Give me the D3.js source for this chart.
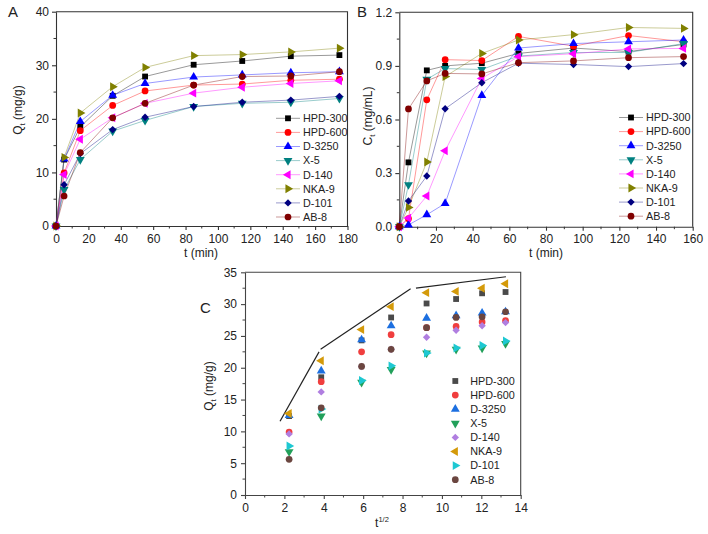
<!DOCTYPE html>
<html><head><meta charset="utf-8">
<script src="https://cdn.jsdelivr.net/npm/d3@7"></script>
<style>
body{margin:0;background:#fff;}
svg{display:block;font-family:"Liberation Sans",Arial,sans-serif;}
</style></head>
<body>
<svg id="c" width="708" height="534"></svg>
<script>
// ---------- DATA ----------
const seriesNames = ["HPD-300","HPD-600","D-3250","X-5","D-140","NKA-9","D-101","AB-8"];
// Panel A: adsorption kinetics
const timeA = [0,5,15,35,55,85,115,145,175];
const qHPD300 = [0,12.4,18.5,24.3,27.9,30.1,30.8,31.7,31.9];
const qHPD600 = [0,9.9,17.8,22.5,25.2,26.3,26.5,27.2,27.4];
const qD3250  = [0,12.5,19.5,24.4,26.6,27.8,28.2,28.6,28.8];
const qX5     = [0,6.8,12.4,17.7,19.7,22.3,22.9,23.1,23.8];
const qD140   = [0,9.6,16.2,20.2,22.9,24.8,25.9,26.6,27.1];
const qNKA9   = [0,12.8,21.1,26.0,29.6,31.8,32.0,32.5,33.2];
const qD101   = [0,7.7,13.5,18.0,20.3,22.3,23.1,23.5,24.2];
const qAB8    = [0,5.6,13.7,20.2,22.9,26.3,27.9,28.0,28.8];
// Panel B: desorption kinetics
const timeB = [0,5,15,25,45,65,95,125,155];
const cHPD300 = [0,0.36,0.875,0.90,0.915,0.97,1.00,0.98,1.02];
const cHPD600 = [0,0.045,0.71,0.935,0.93,1.065,1.01,1.07,1.035];
const cD3250  = [0,0.01,0.067,0.13,0.735,1.00,1.025,1.035,1.045];
const cX5     = [0,0.235,0.825,0.885,0.88,0.955,0.975,0.975,1.025];
const cD140   = [0,0.048,0.172,0.425,0.83,0.952,0.968,0.995,0.998];
const cNKA9   = [0,0.108,0.362,0.84,0.97,1.045,1.075,1.115,1.11];
const cD101   = [0,0.144,0.284,0.66,0.806,0.915,0.908,0.896,0.913];
const cAB8    = [0,0.659,0.816,0.858,0.855,0.918,0.928,0.946,0.952];
// Panel C: intraparticle diffusion (x = t^1/2)
const sqrtT = [2.24,3.87,5.92,7.42,9.22,10.72,12.04,13.23];
// Fitted line segments (x1,y1,x2,y2)
const fitX1 = [1.78,3.84,8.68];
const fitY1 = [11.6,22.9,32.5];
const fitX2 = [3.76,8.41,13.25];
const fitY2 = [22.5,32.4,34.3];
// Tick labels
const ticksAx = [0,20,40,60,80,100,120,140,160,180];
const ticksAy = [0,10,20,30,40];
const ticksBx = [0,20,40,60,80,100,120,140,160];
const ticksBy = [0,0.3,0.6,0.9,1.2];
const ticksCx = [0,2,4,6,8,10,12,14];
const ticksCy = [0,5,10,15,20,25,30,35];

const qData = [qHPD300,qHPD600,qD3250,qX5,qD140,qNKA9,qD101,qAB8];
const cData = [cHPD300,cHPD600,cD3250,cX5,cD140,cNKA9,cD101,cAB8];
const colorsAB = ["#000000","#ff0000","#0000ff","#008080","#ff00ff","#808000","#000080","#800000"];
const colorsC  = ["#4a4a4a","#f03e3e","#1c6fe0","#22a05a","#b07ee0","#d49a0a","#1ec8d2","#6b4640"];
const shapes   = ["square","circle","up","down","left","right","diamond","circle"];
const shapesC  = ["square","circle","up","down","diamond","left","right","circle"];

// ---------- DRAW ----------
const svg = d3.select("#c");
const txt = "#222";
const tickFont = "12px", legFont = "10.8px", titleFont = "12px";

function marker(g, shape, size){
  let type, rot = 0;
  switch(shape){
    case "square": type = d3.symbolSquare; break;
    case "circle": type = d3.symbolCircle; break;
    case "up": type = d3.symbolTriangle; break;
    case "down": type = d3.symbolTriangle; rot = 180; break;
    case "left": type = d3.symbolTriangle; rot = -90; break;
    case "right": type = d3.symbolTriangle; rot = 90; break;
    case "diamond": type = d3.symbolSquare; rot = 45; break;
  }
  const s = (shape==="diamond") ? size*0.8 : (shape==="circle" ? size*1.05 : size);
  return g.append("path").attr("d", d3.symbol().type(type).size(s)()).attr("data-rot", rot);
}

function axes(g, x, y, xt, yt, xminor, yminor, fmtY, frameColor, outer){
  const [x0,x1] = x.range(), [y0,y1] = y.range();
  const minorG = g.append("g").attr("stroke", frameColor).attr("stroke-width",1);
  xminor.forEach(v=>{ minorG.append("line").attr("x1",x(v)).attr("x2",x(v)).attr("y1",y0).attr("y2",y0+2.5); });
  yminor.forEach(v=>{ minorG.append("line").attr("y1",y(v)).attr("y2",y(v)).attr("x1",x0).attr("x2",x0-2.5); });
  const xa = g.append("g").attr("transform",`translate(0,${y0})`)
    .call(d3.axisBottom(x).tickValues(xt).tickSize(4).tickPadding(outer.xpad).tickSizeOuter(0).tickFormat(d3.format("d")));
  const ya = g.append("g").attr("transform",`translate(${x0},0)`)
    .call(d3.axisLeft(y).tickValues(yt).tickSize(4).tickPadding(outer.ypad).tickSizeOuter(0).tickFormat(fmtY));
  [xa,ya].forEach(a=>{
    a.selectAll("path,line").attr("stroke",frameColor).attr("stroke-width",1.1);
    a.selectAll("text").attr("fill",txt).style("font-size",tickFont);
  });
  g.append("path").attr("d",`M${x0},${y1}H${x1}V${y0}`).attr("fill","none").attr("stroke",frameColor).attr("stroke-width",1.1);
}

function legend(g, lx, ly, colors, shp, withLine, lineOpacity){
  seriesNames.forEach((n,i)=>{
    const yy = ly + i*14.1;
    if(withLine){
      g.append("line").attr("x1",lx-12).attr("x2",lx+12).attr("y1",yy).attr("y2",yy)
        .attr("stroke",colors[i]).attr("stroke-opacity",lineOpacity).attr("stroke-width",1);
    }
    const m = marker(g, shp[i], 34);
    m.attr("transform",`translate(${lx},${yy}) rotate(${m.attr("data-rot")})`).attr("fill",colors[i]);
    g.append("text").attr("x", lx + 15).attr("y",yy).attr("dy","0.36em")
      .attr("fill",txt).style("font-size",legFont).text(n);
  });
}

// ----- Panel A -----
{
  const x = d3.scaleLinear().domain([0,180]).range([56,347.5]);
  const y = d3.scaleLinear().domain([0,40]).range([226,11.7]);
  const g = svg.append("g");
  axes(g,x,y,ticksAx,ticksAy,d3.range(10,180,20),d3.range(5,40,10),d3.format("d"),"#333",{xpad:4,ypad:3});
  const line = d3.line().x((d,i)=>x(timeA[i])).y(d=>y(d));
  qData.forEach((s,k)=>{
    g.append("path").attr("d",line(s)).attr("fill","none").attr("stroke",colorsAB[k]).attr("stroke-opacity",0.4).attr("stroke-width",1);
  });
  qData.forEach((s,k)=>{
    s.forEach((v,i)=>{
      const m = marker(g, shapes[k], 34);
      m.attr("transform",`translate(${x(timeA[i])},${y(v)}) rotate(${m.attr("data-rot")})`).attr("fill",colorsAB[k]);
    });
  });
  legend(g, 288, 118.3, colorsAB, shapes, true, 0.4);
  g.append("text").attr("x",8).attr("y",17).attr("fill",txt).style("font-size","15px").text("A");
  const yl = g.append("text").attr("transform","translate(22,110) rotate(-90)").attr("text-anchor","middle").attr("fill",txt).style("font-size",titleFont);
  yl.append("tspan").text("Q");
  yl.append("tspan").attr("dy",3).style("font-size","8px").text("t");
  yl.append("tspan").attr("dy",-3).text(" (mg/g)");
  g.append("text").attr("x",201).attr("y",257).attr("text-anchor","middle").attr("fill",txt).style("font-size",titleFont).text("t (min)");
}

// ----- Panel B -----
{
  const x = d3.scaleLinear().domain([0,160]).range([399.3,692.7]);
  const y = d3.scaleLinear().domain([0,1.2]).range([226.7,12.3]);
  const g = svg.append("g");
  axes(g,x,y,ticksBx,ticksBy,d3.range(10,160,20),[0.15,0.45,0.75,1.05],d3.format(".1f"),"#333",{xpad:4,ypad:3});
  const line = d3.line().x((d,i)=>x(timeB[i])).y(d=>y(d));
  cData.forEach((s,k)=>{
    g.append("path").attr("d",line(s)).attr("fill","none").attr("stroke",colorsAB[k]).attr("stroke-opacity",0.4).attr("stroke-width",1);
  });
  cData.forEach((s,k)=>{
    s.forEach((v,i)=>{
      const m = marker(g, shapes[k], 34);
      m.attr("transform",`translate(${x(timeB[i])},${y(v)}) rotate(${m.attr("data-rot")})`).attr("fill",colorsAB[k]);
    });
  });
  legend(g, 631, 117.5, colorsAB, shapes, true, 0.4);
  g.append("text").attr("x",357).attr("y",17).attr("fill",txt).style("font-size","15px").text("B");
  const yl = g.append("text").attr("transform","translate(372,116) rotate(-90)").attr("text-anchor","middle").attr("fill",txt).style("font-size",titleFont);
  yl.append("tspan").text("C");
  yl.append("tspan").attr("dy",3).style("font-size","8px").text("t");
  yl.append("tspan").attr("dy",-3).text(" (mg/mL)");
  g.append("text").attr("x",546).attr("y",257).attr("text-anchor","middle").attr("fill",txt).style("font-size",titleFont).text("t (min)");
}

// ----- Panel C -----
{
  const x = d3.scaleLinear().domain([0,14]).range([245,520.7]);
  const y = d3.scaleLinear().domain([0,35]).range([495,272.3]);
  const g = svg.append("g");
  axes(g,x,y,ticksCx,ticksCy,d3.range(1,14,2),d3.range(2.5,35,5),d3.format("d"),"#444",{xpad:4,ypad:4});
  fitX1.forEach((v,i)=>{
    g.append("line").attr("x1",x(fitX1[i])).attr("y1",y(fitY1[i])).attr("x2",x(fitX2[i])).attr("y2",y(fitY2[i]))
      .attr("stroke","#222").attr("stroke-width",1.2);
  });
  qData.forEach((s,k)=>{
    s.slice(1).forEach((v,i)=>{
      const m = marker(g, shapesC[k], 34);
      m.attr("transform",`translate(${x(sqrtT[i])},${y(v)}) rotate(${m.attr("data-rot")})`).attr("fill",colorsC[k]);
    });
  });
  legend(g, 455.3, 381, colorsC, shapesC, false, 0);
  g.append("text").attr("x",200).attr("y",313).attr("fill",txt).style("font-size","15px").text("C");
  const yl = g.append("text").attr("transform","translate(213,386) rotate(-90)").attr("text-anchor","middle").attr("fill",txt).style("font-size",titleFont);
  yl.append("tspan").text("Q");
  yl.append("tspan").attr("dy",3).style("font-size","8px").text("t");
  yl.append("tspan").attr("dy",-3).text(" (mg/g)");
  const xl = g.append("text").attr("x",382).attr("y",527).attr("text-anchor","middle").attr("fill",txt).style("font-size",titleFont);
  xl.append("tspan").text("t");
  xl.append("tspan").attr("dy",-5).style("font-size","7.5px").text("1/2");
}
</script>
</body></html>
